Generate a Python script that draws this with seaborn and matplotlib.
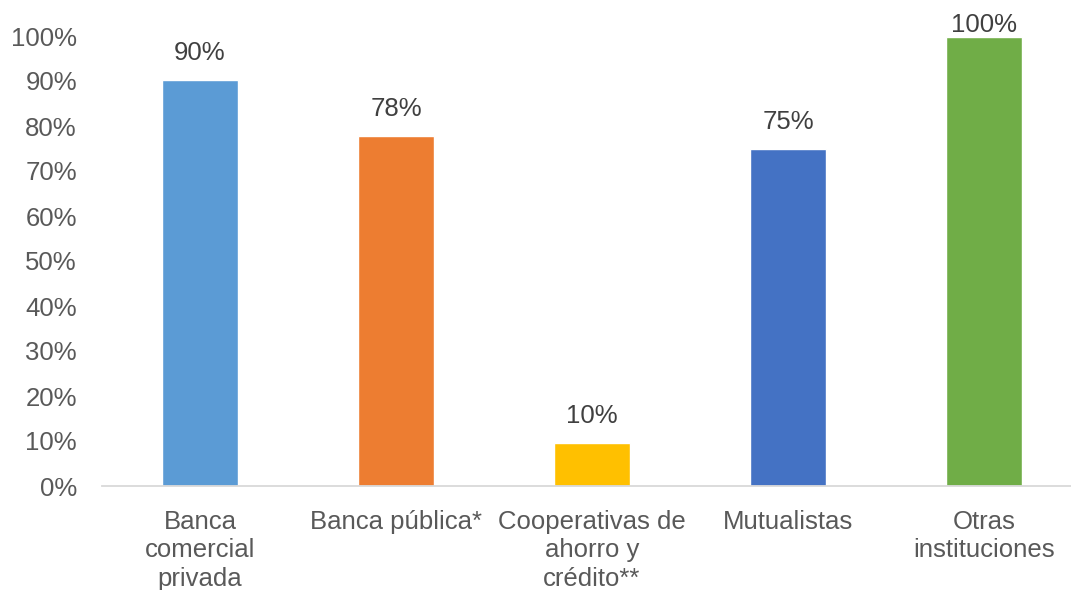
import matplotlib
matplotlib.use("Agg")
import matplotlib.pyplot as plt
import seaborn as sns
import pandas as pd
import numpy as np

# Share of institutions per type
categories = ["Banca\ncomercial\nprivada", "Banca pública*", "Cooperativas de\nahorro y\ncrédito**",
              "Mutualistas", "Otras\ninstituciones"]
shares = [0.902, 0.778, 0.096, 0.748, 0.998]
colors = ["#5B9BD5", "#ED7D31", "#FFC000", "#4472C4", "#70AD47"]
y_ticks = [0.0, 0.1, 0.2, 0.3, 0.4, 0.5, 0.6, 0.7, 0.8, 0.9, 1.0]

sns.set_theme(style="white")
plt.rcParams["font.family"] = ["Liberation Sans", "DejaVu Sans"]

W, H = 1071, 590
fig = plt.figure(figsize=(W / 100, H / 100), dpi=100)
ax = fig.add_axes([102 / W, (H - 486) / H, 980 / W, 450 / H])

df = pd.DataFrame({"cat": categories, "share": shares})
sns.barplot(data=df, x="cat", y="share", hue="cat", palette=colors, legend=False,
            width=0.385, saturation=1, ax=ax)

ax.set_xlim(-0.5, len(categories) - 0.5)
ax.set_ylim(0, 1.0)
ax.set_xlabel("")
ax.set_ylabel("")
ax.set_yticks(y_ticks)
ax.set_yticklabels([f"{int(round(t * 100))}%" for t in y_ticks])

for s in ["top", "right", "left"]:
    ax.spines[s].set_visible(False)
ax.spines["bottom"].set_color("#D9D9D9")
ax.spines["bottom"].set_linewidth(1.3)

ax.tick_params(axis="y", length=0, pad=18, labelsize=18.5, labelcolor="#595959")
ax.tick_params(axis="x", which="major", length=0, pad=17, labelsize=18.5, labelcolor="#595959")
ax.set_xticks(np.arange(-0.5, len(categories)), minor=True)
ax.tick_params(axis="x", which="minor", length=8, width=1.3, color="#D9D9D9", direction="out")
for lbl in ax.get_xticklabels():
    lbl.set_linespacing(1.25)

# Value labels above bars, kept inside the figure
fig.canvas.draw()
for i, v in enumerate(shares):
    x_px, y_px = ax.transData.transform((i, v))
    y_lbl = min(y_px + 27, H - 25)
    xf, yf = fig.transFigure.inverted().transform((x_px, y_lbl))
    fig.text(xf, yf, f"{int(round(v * 100))}%", ha="center", va="center",
             fontsize=18.5, color="#404040")

fig.savefig("out.png", dpi=100)
